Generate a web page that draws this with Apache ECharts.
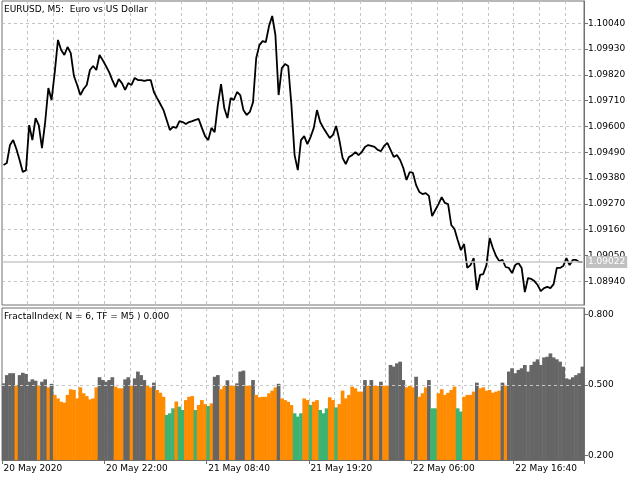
<!DOCTYPE html>
<html><head><meta charset="utf-8">
<script src="https://cdn.jsdelivr.net/npm/echarts@6/dist/echarts.min.js"></script>
<style>html,body{margin:0;padding:0;background:#fff}#c{width:640px;height:480px}</style>
</head><body><div id="c"></div>
<script>
// EURUSD M5 closes, one point per 20 minutes, from 20 May 2020 11:20
const priceClose = [
1.09436,1.09444,1.09521,1.09542,1.09504,1.09457,1.09406,1.09414,1.09606,1.09542,
1.09636,1.09606,1.09508,1.09619,1.09764,1.09713,1.09832,1.09969,1.09926,1.09905,
1.09939,1.09913,1.09815,1.09777,1.09734,1.09760,1.09777,1.09841,1.09858,1.09841,
1.09905,1.09883,1.09858,1.09832,1.09798,1.09768,1.09802,1.09785,1.09756,1.09785,
1.09777,1.09807,1.09798,1.09798,1.09794,1.09798,1.09798,1.09747,1.09721,1.09696,
1.09670,1.09628,1.09585,1.09598,1.09594,1.09623,1.09619,1.09611,1.09619,1.09623,
1.09628,1.09632,1.09594,1.09559,1.09542,1.09594,1.09576,1.09692,1.09781,1.09679,
1.09636,1.09721,1.09713,1.09747,1.09734,1.09670,1.09649,1.09662,1.09704,1.09892,
1.09947,1.09964,1.09960,1.10028,1.10071,1.09990,1.09734,1.09849,1.09866,1.09858,
1.09692,1.09478,1.09414,1.09542,1.09559,1.09525,1.09555,1.09594,1.09670,1.09619,
1.09594,1.09572,1.09551,1.09564,1.09602,1.09542,1.09466,1.09440,1.09470,1.09478,
1.09491,1.09478,1.09491,1.09513,1.09521,1.09517,1.09513,1.09500,1.09495,1.09517,
1.09530,1.09500,1.09470,1.09478,1.09457,1.09423,1.09372,1.09406,1.09402,1.09350,
1.09321,1.09312,1.09316,1.09304,1.09218,1.09244,1.09269,1.09299,1.09274,1.09269,
1.09180,1.09163,1.09116,1.09073,1.09099,1.08997,1.09009,1.09039,1.08903,1.08967,
1.08971,1.09009,1.09124,1.09082,1.09048,1.09026,1.09031,1.09001,1.08997,1.08975,
1.09009,1.09018,1.08997,1.08894,1.08954,1.08950,1.08941,1.08924,1.08898,1.08911,
1.08916,1.08911,1.08928,1.08997,1.08997,1.09005,1.09039,1.09009,1.09031,1.09031,1.09022,1.09022
];
const lastPrice = 1.09022;
const priceTicks = [1.08940,1.09050,1.09160,1.09270,1.09380,1.09490,1.09600,1.09710,1.09820,1.09930,1.10040];

// FractalIndex values and colour state (g = above, o = middle, n = low)
const fiValues = [
0.507,0.542,0.550,0.550,0.500,0.542,0.552,0.547,0.514,0.524,
0.518,0.497,0.514,0.524,0.490,0.505,0.458,0.443,0.429,0.425,
0.458,0.482,0.479,0.443,0.490,0.465,0.453,0.439,0.443,0.490,
0.533,0.521,0.514,0.521,0.533,0.493,0.486,0.486,0.524,0.533,
0.497,0.528,0.557,0.542,0.521,0.496,0.490,0.510,0.479,0.467,
0.450,0.373,0.380,0.401,0.430,0.408,0.394,0.436,0.450,0.453,
0.394,0.415,0.436,0.419,0.411,0.422,0.535,0.542,0.482,0.496,
0.520,0.497,0.497,0.507,0.557,0.561,0.497,0.496,0.521,0.458,
0.448,0.450,0.450,0.465,0.476,0.490,0.505,0.443,0.436,0.429,
0.415,0.380,0.366,0.380,0.443,0.436,0.415,0.429,0.436,0.394,
0.380,0.401,0.448,0.436,0.405,0.419,0.476,0.443,0.458,0.493,
0.486,0.472,0.472,0.521,0.496,0.521,0.496,0.496,0.514,0.497,
0.496,0.585,0.578,0.592,0.599,0.521,0.490,0.496,0.490,0.535,
0.450,0.465,0.490,0.521,0.401,0.401,0.465,0.482,0.458,0.467,
0.479,0.493,0.401,0.387,0.450,0.458,0.458,0.472,0.510,0.486,
0.490,0.476,0.479,0.467,0.472,0.476,0.510,0.497,0.557,0.571,
0.550,0.564,0.571,0.585,0.557,0.585,0.599,0.609,0.585,0.617,
0.620,0.634,0.617,0.609,0.599,0.578,0.528,0.524,0.533,0.542,0.550,0.578
];
const fiState = [
'g','g','g','g','o','g','g','g','g','g',
'g','o','g','g','o','g','o','o','o','o',
'o','o','o','o','o','o','o','o','o','o',
'g','g','g','g','g','o','o','o','g','g',
'o','g','g','g','g','o','o','g','o','o',
'o','n','n','n','o','n','n','o','o','o',
'n','o','o','o','n','o','g','g','o','o',
'g','o','o','g','g','g','o','o','g','o',
'o','o','o','o','o','o','g','o','o','o',
'o','n','n','n','o','o','n','o','o','n',
'n','n','o','o','n','o','o','o','o','o',
'o','o','o','g','o','g','o','o','g','o',
'o','g','g','g','g','g','o','o','o','g',
'o','o','o','g','n','n','o','o','o','o',
'o','o','n','n','o','o','o','o','g','o',
'o','o','o','o','o','o','g','o','g','g',
'g','g','g','g','g','g','g','g','g','g',
'g','g','g','g','g','g','g','g','g','g','g','g'
];
const fiTicks = [0.2, 0.5, 0.8];
const fiLevel = 0.5;
const xTickLabels = ['20 May 2020','20 May 22:00','21 May 08:40','21 May 19:20','22 May 06:00','22 May 16:40'];

const MONTHS = ['Jan','Feb','Mar','Apr','May','Jun','Jul','Aug','Sep','Oct','Nov','Dec'];
const start = Date.UTC(2020, 4, 20, 11, 20);
const categories = priceClose.map((_, i) => {
  const d = new Date(start + i * 20 * 60000);
  const p = n => String(n).padStart(2, '0');
  return d.getUTCDate() + ' ' + MONTHS[d.getUTCMonth()] + ' ' + p(d.getUTCHours()) + ':' + p(d.getUTCMinutes());
});

const FONT = 'DejaVu Sans';
const GRID_C = '#c4c4c4';
const AXIS_C = '#707070';
const stateColor = { g: '#666666', o: '#ff8c00', n: '#3cb371' };

const chart = echarts.init(document.getElementById('c'), null, { renderer: 'canvas' });
const textBase = { fontFamily: FONT, fontSize: 9, color: '#000', fontWeight: 'normal' };
const vSplit = { show: true, interval: (i) => i % 8 === 0 && i > 0, lineStyle: { color: GRID_C, type: [3, 3], width: 1 } };

chart.setOption({
  animation: false,
  backgroundColor: '#fff',
  title: [
    { text: 'EURUSD, M5:  Euro vs US Dollar', left: 4, top: 5, padding: 0, textStyle: textBase },
    { text: 'FractalIndex( N = 6, TF = M5 ) 0.000', left: 4, top: 312, padding: 0, textStyle: textBase }
  ],
  grid: [
    { left: 2, right: 56, top: 1, height: 304, show: true, borderColor: AXIS_C, borderWidth: 1 },
    { left: 2, right: 56, top: 308, height: 152, show: true, borderColor: AXIS_C, borderWidth: 1 }
  ],
  xAxis: [
    { type: 'category', gridIndex: 0, data: categories, boundaryGap: true,
      axisLine: { show: false }, axisTick: { show: false }, axisLabel: { show: false }, splitLine: vSplit },
    { type: 'category', gridIndex: 1, data: categories, boundaryGap: true,
      axisLine: { show: true, lineStyle: { color: AXIS_C } },
      axisTick: { show: true, interval: (i) => i % 32 === 0, length: 4, lineStyle: { color: AXIS_C } },
      axisLabel: Object.assign({ interval: (i) => i % 32 === 0, formatter: (v, i) => xTickLabels[i / 32], align: 'left', margin: 4 }, textBase),
      splitLine: vSplit }
  ],
  yAxis: [
    { type: 'value', gridIndex: 0, position: 'right', min: 1.08839, max: 1.10135, scale: true,
      axisLine: { show: true, lineStyle: { color: AXIS_C } },
      axisTick: { show: true, customValues: priceTicks, length: 4, lineStyle: { color: AXIS_C } },
      axisLabel: Object.assign({ customValues: priceTicks, formatter: (v) => v.toFixed(5), margin: 4 }, textBase),
      splitLine: { show: true, lineStyle: { color: GRID_C, type: [3, 3], width: 1 } } },
    { type: 'value', gridIndex: 1, position: 'right', min: 0.1818, max: 0.8267, scale: true,
      axisLine: { show: true, lineStyle: { color: AXIS_C } },
      axisTick: { show: true, customValues: fiTicks, length: 4, lineStyle: { color: AXIS_C } },
      axisLabel: Object.assign({ customValues: fiTicks, formatter: (v) => v.toFixed(3), margin: 4 }, textBase),
      splitLine: { show: false } }
  ],
  series: [
    { type: 'line', xAxisIndex: 0, yAxisIndex: 0, data: [], z: 1,
      markLine: { silent: true, symbol: 'none', animation: false, precision: 5,
        lineStyle: { color: '#c8c8c8', type: 'solid', width: 1.5 },
        label: { position: 'end', distance: 2, formatter: (p) => Number(p.value).toFixed(5), color: '#fff',
                 backgroundColor: '#c0c0c0', padding: [2, 2, 1, 2], fontFamily: FONT, fontSize: 9 },
        data: [{ yAxis: lastPrice }] } },
    { type: 'line', xAxisIndex: 0, yAxisIndex: 0, data: priceClose, symbol: 'none', showSymbol: false,
      lineStyle: { color: '#000', width: 1.8 }, z: 3 },
    { type: 'bar', xAxisIndex: 1, yAxisIndex: 1, barWidth: 3.7, z: 2,
      data: fiValues.map((v, i) => ({ value: v, itemStyle: { color: stateColor[fiState[i]] } })),
      markLine: { silent: true, symbol: 'none', animation: false, precision: 3, label: { show: false },
        lineStyle: { color: '#c8c8c8', type: [3, 3], width: 1 },
        data: [{ yAxis: fiLevel }] } }
  ]
});
</script></body></html>
